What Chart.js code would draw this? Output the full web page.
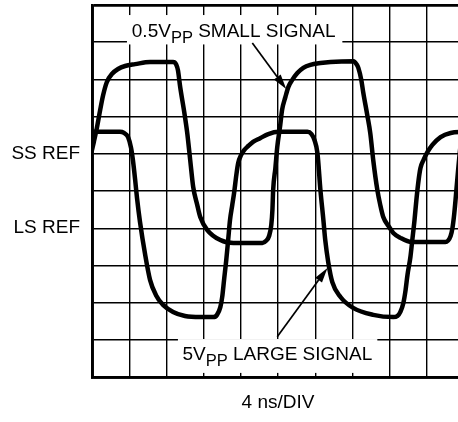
<!DOCTYPE html>
<html>
<head>
<meta charset="utf-8">
<script src="https://cdn.jsdelivr.net/npm/chart.js@4/dist/chart.umd.min.js"></script>
<style>
  html, body { margin: 0; padding: 0; background: #fff; overflow: hidden; }
  #wrap { position: relative; width: 458px; height: 422px; overflow: hidden; }
  canvas { position: absolute; left: 0; top: 0; }
</style>
</head>
<body>
<div id="wrap"><canvas id="scope" width="464" height="422"></canvas></div>
<script>
// Oscilloskop: 10 x 10 działek, x w działkach czasu (4 ns/DIV), y w działkach od dołu
const xTicks = [0, 1, 2, 3, 4, 5, 6, 7, 8, 9, 10];
const yTicks = [0, 1, 2, 3, 4, 5, 6, 7, 8, 9, 10];
const refLabels = { 6: "SS REF", 4: "LS REF" };
const xTitle = "4 ns/DIV";

// 0.5Vpp - mały sygnał [czas, poziom]
const smallSignal = [
  [0, 6.10], [0.05, 6.32], [0.13, 6.69], [0.22, 7.18], [0.30, 7.58], [0.40, 7.93],
  [0.54, 8.15], [0.70, 8.28], [0.89, 8.36], [1.16, 8.41], [1.56, 8.47], [2.18, 8.47],
  [2.26, 8.41], [2.31, 8.25], [2.37, 7.80], [2.48, 7.12], [2.56, 6.56], [2.64, 5.83],
  [2.72, 5.11], [2.83, 4.62], [2.91, 4.30], [3.10, 3.95], [3.45, 3.68], [3.80, 3.60],
  [4.58, 3.60], [4.68, 3.66], [4.76, 3.79], [4.82, 4.09], [4.85, 4.49], [4.87, 5.03],
  [4.93, 5.62], [4.98, 6.18], [5.06, 6.77], [5.11, 7.18], [5.20, 7.53], [5.28, 7.80],
  [5.38, 7.98], [5.52, 8.17], [5.68, 8.31], [5.87, 8.39], [6.14, 8.44], [6.41, 8.47],
  [7.03, 8.49], [7.11, 8.41], [7.16, 8.31], [7.24, 7.98], [7.29, 7.66], [7.40, 7.04],
  [7.48, 6.56], [7.56, 5.83], [7.67, 5.03], [7.75, 4.62], [7.83, 4.30], [7.97, 4.06],
  [8.10, 3.87], [8.29, 3.74], [8.59, 3.63], [9.50, 3.63], [9.64, 3.79], [9.69, 4.01],
  [9.74, 4.41], [9.80, 5.08], [9.85, 5.65], [9.91, 6.24], [9.99, 6.77]
];

// 5Vpp - duży sygnał [czas, poziom]
const largeSignal = [
  [0, 6.59], [0.48, 6.59], [0.75, 6.59], [0.86, 6.56], [0.97, 6.45], [1.05, 6.16],
  [1.10, 5.83], [1.16, 5.30], [1.21, 4.81], [1.29, 4.17], [1.43, 3.28], [1.56, 2.61],
  [1.72, 2.20], [1.91, 1.94], [2.18, 1.75], [2.50, 1.64], [2.91, 1.61], [3.26, 1.61],
  [3.36, 1.67], [3.45, 1.88], [3.50, 2.15], [3.55, 2.61], [3.61, 3.15], [3.66, 3.68],
  [3.71, 4.22], [3.77, 4.62], [3.82, 4.95], [3.88, 5.43], [3.93, 5.75], [4.01, 5.97],
  [4.09, 6.10], [4.20, 6.21], [4.33, 6.32], [4.52, 6.42], [4.74, 6.53], [5.01, 6.59],
  [5.79, 6.59], [5.90, 6.53], [5.98, 6.37], [6.06, 6.02], [6.14, 5.03], [6.22, 4.22],
  [6.27, 3.68], [6.35, 3.09], [6.46, 2.55], [6.68, 2.15], [7.03, 1.85], [7.56, 1.67],
  [8.10, 1.61], [8.21, 1.64], [8.29, 1.75], [8.37, 1.99], [8.43, 2.34], [8.48, 2.74],
  [8.56, 3.23], [8.61, 3.68], [8.67, 4.22], [8.72, 4.76], [8.78, 5.30], [8.83, 5.62],
  [8.91, 5.83], [9.02, 6.05], [9.15, 6.24], [9.37, 6.45], [9.64, 6.56], [10, 6.59]
];

// opisy (w jednostkach działek)
const callouts = [
  { box: [0.94, 9.73, 6.73, 8.94], at: [1.07, 9.15], main: "0.5V", sub: "PP", rest: " SMALL SIGNAL",
    arrow: [4.31, 8.98, 5.22, 7.74] },
  { box: [2.31, 1.02, 7.67, 0.11], at: [2.43, 0.46], main: "5V", sub: "PP", rest: " LARGE SIGNAL",
    arrow: [4.98, 1.08, 6.33, 2.93] }
];

const FONT = '"Liberation Sans", Arial, Helvetica, sans-serif';
const gridW = (c) => (c.tick && (c.tick.value === 10 || c.tick.value === 0) ? 2.8 : 1.4);

const calloutPlugin = {
  id: "callouts",
  afterDatasetsDraw(chart) {
    const { ctx, scales: { x, y } } = chart;
    ctx.save();
    callouts.forEach((c) => {
      const x0 = x.getPixelForValue(c.box[0]), y0 = y.getPixelForValue(c.box[1]);
      const x1 = x.getPixelForValue(c.box[2]), y1 = y.getPixelForValue(c.box[3]);
      ctx.fillStyle = "#fff";
      ctx.fillRect(x0, y0, x1 - x0, y1 - y0);

      let tx = x.getPixelForValue(c.at[0]);
      const ty = y.getPixelForValue(c.at[1]);
      ctx.fillStyle = "#000";
      ctx.textBaseline = "alphabetic";
      ctx.textAlign = "left";
      ctx.font = "19px " + FONT;
      ctx.fillText(c.main, tx, ty);
      tx += ctx.measureText(c.main).width;
      ctx.font = "16.5px " + FONT;
      ctx.fillText(c.sub, tx, ty + 6.6);
      tx += ctx.measureText(c.sub).width;
      ctx.font = "19px " + FONT;
      ctx.fillText(c.rest, tx, ty);

      // strzałka
      const ax = x.getPixelForValue(c.arrow[0]), ay = y.getPixelForValue(c.arrow[1]);
      const bx = x.getPixelForValue(c.arrow[2]), by = y.getPixelForValue(c.arrow[3]);
      const ang = Math.atan2(by - ay, bx - ax);
      const len = 15, half = 4.2;
      const hx = bx - len * Math.cos(ang), hy = by - len * Math.sin(ang);
      ctx.strokeStyle = "#000";
      ctx.lineWidth = 1.7;
      ctx.beginPath();
      ctx.moveTo(ax, ay);
      ctx.lineTo(hx, hy);
      ctx.stroke();
      ctx.beginPath();
      ctx.moveTo(bx, by);
      ctx.lineTo(hx + half * Math.sin(ang), hy - half * Math.cos(ang));
      ctx.lineTo(hx - half * Math.sin(ang), hy + half * Math.cos(ang));
      ctx.closePath();
      ctx.fill();
    });
    ctx.restore();
  },
};

const lineStyle = {
  showLine: true,
  borderColor: "#000",
  borderWidth: 4.5,
  pointRadius: 0,
  fill: false,
  cubicInterpolationMode: "monotone",
  borderCapStyle: "round",
  borderJoinStyle: "round",
};

const ctx = document.getElementById("scope").getContext("2d");
const scopeChart = new Chart(ctx, {
  type: "scatter",
  data: {
    datasets: [
      { label: "0.5Vpp", data: smallSignal.map(([t, v]) => ({ x: t, y: v })), ...lineStyle },
      { label: "5Vpp", data: largeSignal.map(([t, v]) => ({ x: t, y: v })), ...lineStyle },
    ],
  },
  options: {
    responsive: false,
    animation: false,
    layout: { padding: { top: 5, left: 0, right: 0, bottom: 0 } },
    plugins: { legend: { display: false }, tooltip: { enabled: false } },
    scales: {
      x: {
        type: "linear",
        min: xTicks[0],
        max: xTicks[xTicks.length - 1],
        afterBuildTicks: (s) => { s.ticks = xTicks.map((v) => ({ value: v })); },
        ticks: { display: false },
        grid: { color: "#000", lineWidth: gridW, drawTicks: false },
        border: { display: true, color: "#000", width: 2.8 },
        title: {
          display: true,
          text: xTitle,
          color: "#000",
          font: { family: FONT, size: 19 },
          padding: { top: 0, bottom: 8 },
        },
        afterFit: (s) => { s.height = 45; },
      },
      y: {
        type: "linear",
        min: yTicks[0],
        max: yTicks[yTicks.length - 1],
        afterBuildTicks: (s) => { s.ticks = yTicks.map((v) => ({ value: v })); },
        ticks: {
          padding: 12,
          color: "#000",
          font: { family: FONT, size: 19 },
          callback: (v) => refLabels[v] || "",
        },
        grid: { color: "#000", lineWidth: gridW, drawTicks: false },
        border: { display: true, color: "#000", width: 2.8 },
        afterFit: (s) => { s.width = 92; s.paddingTop = 0; s.paddingBottom = 0; },
      },
    },
  },
  plugins: [calloutPlugin],
});
</script>
</body>
</html>
